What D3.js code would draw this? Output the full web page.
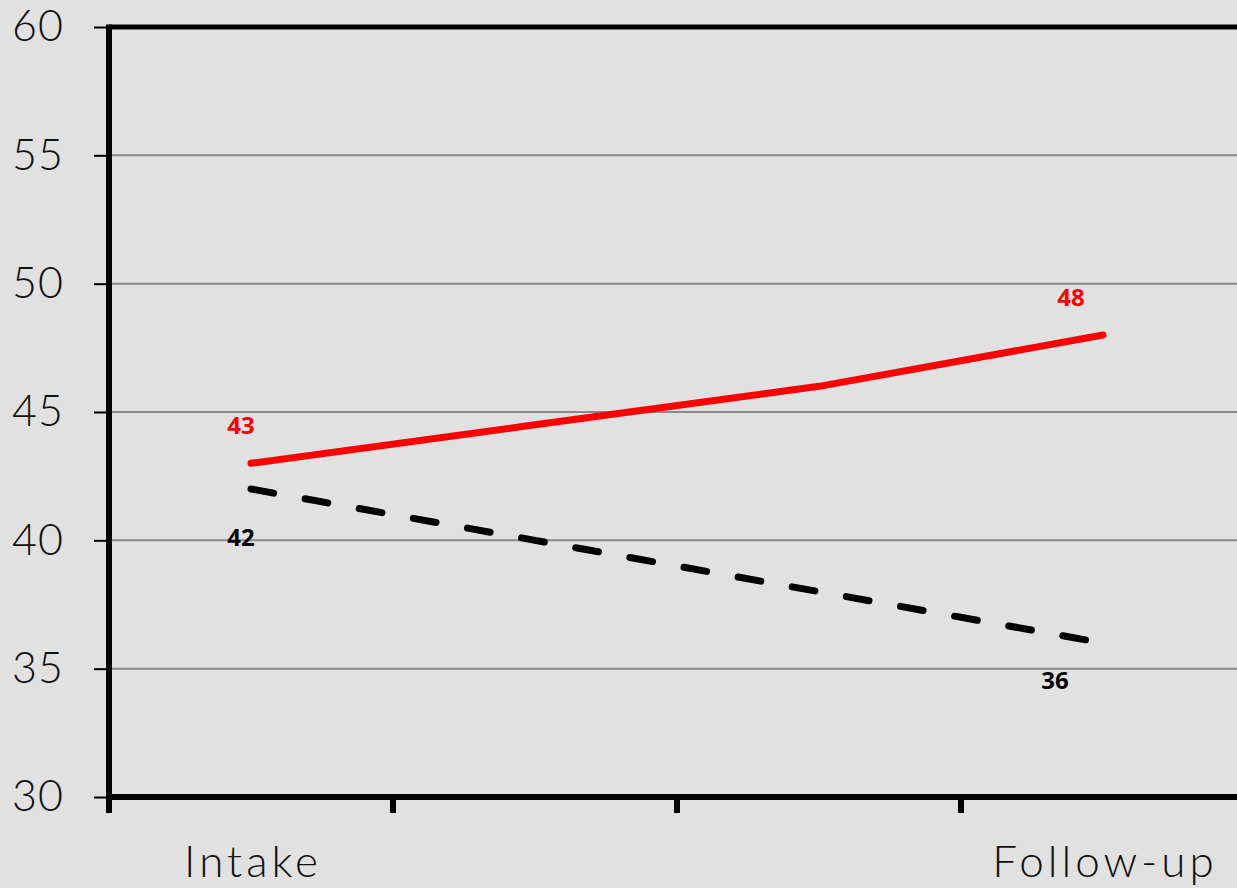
<!DOCTYPE html>
<html>
<head>
<meta charset="utf-8">
<script src="https://cdn.jsdelivr.net/npm/d3@7"></script>
<style>
  html, body { margin: 0; padding: 0; background: #e1e1e1; }
  svg { display: block; }
</style>
</head>
<body>
<svg id="chart" width="1237" height="888"></svg>
<script>
// Time points along the x axis (only first and last are labelled)
const categories = ["Intake", "T2", "T3", "Follow-up"];
const categoryLabels = ["Intake", "", "", "Follow-up"];

// Mean scores for the two groups
const redSeries = [43, 44.5, 46, 48];
const blackSeries = [42, 40, 38, 36];

// Which points carry a value label
const labelledIndex = [0, 3];

// Y axis ticks
const yTicks = [30, 35, 40, 45, 50, 55, 60];

const svg = d3.select("#chart");
const W = 1237, H = 888;
const plotLeft = 109, plotTop = 27, plotBottom = 797;
const step = 284;

svg.append("rect").attr("width", W).attr("height", H).attr("fill", "#e1e1e1");

const x = d3.scaleBand()
  .domain(categories)
  .range([plotLeft, plotLeft + step * categories.length])
  .paddingInner(0).paddingOuter(0);

const y = d3.scaleLinear().domain([30, 60]).range([plotBottom, plotTop]);

// Horizontal gridlines
svg.append("g")
  .selectAll("line")
  .data(yTicks.filter(t => t > 30 && t < 60))
  .join("line")
  .attr("x1", plotLeft).attr("x2", W)
  .attr("y1", d => y(d)).attr("y2", d => y(d))
  .attr("stroke", "#8a8a8a").attr("stroke-width", 2);

// Top border of the plot area
svg.append("line")
  .attr("x1", plotLeft).attr("x2", W)
  .attr("y1", y(60)).attr("y2", y(60))
  .attr("stroke", "#000").attr("stroke-width", 5);

// Y axis: thin ticks, large labels
const yAxis = d3.axisLeft(y).tickValues(yTicks).tickSize(15).tickPadding(30).tickFormat(d3.format("d"));
const gy = svg.append("g").attr("transform", `translate(${plotLeft},0)`).call(yAxis);
gy.select(".domain").remove();
gy.selectAll(".tick line").attr("stroke", "#000").attr("stroke-width", 2);
gy.selectAll(".tick text")
  .attr("fill", "#111")
  .style("font-family", "Lato, 'DejaVu Sans', sans-serif")
  .style("font-weight", 300)
  .style("font-size", "43px")
  .style("letter-spacing", "1px");

// Y axis thick line
svg.append("line")
  .attr("x1", plotLeft).attr("x2", plotLeft)
  .attr("y1", plotTop - 2.5).attr("y2", plotBottom + 2.5)
  .attr("stroke", "#000").attr("stroke-width", 6);

// X axis: thick line with ticks at category boundaries
const boundaries = categories.map(c => x(c)).concat([x(categories[categories.length - 1]) + x.bandwidth()]);
svg.append("line")
  .attr("x1", plotLeft - 3).attr("x2", W)
  .attr("y1", plotBottom).attr("y2", plotBottom)
  .attr("stroke", "#000").attr("stroke-width", 6);
svg.append("g")
  .selectAll("line")
  .data(boundaries)
  .join("line")
  .attr("x1", d => d).attr("x2", d => d)
  .attr("y1", plotBottom).attr("y2", plotBottom + 16)
  .attr("stroke", "#000").attr("stroke-width", 6);

// Category labels
svg.append("g")
  .selectAll("text")
  .data(categories)
  .join("text")
  .attr("x", d => x(d) + x.bandwidth() / 2 + 2)
  .attr("y", 877)
  .attr("text-anchor", "middle")
  .attr("fill", "#111")
  .style("font-family", "Lato, 'DejaVu Sans', sans-serif")
  .style("font-weight", 300)
  .style("font-size", "44px")
  .style("letter-spacing", "4px")
  .text((d, i) => categoryLabels[i]);

const line = d3.line()
  .x((d, i) => x(categories[i]) + x.bandwidth() / 2)
  .y(d => y(d));

// Black dashed series
svg.append("path")
  .datum(blackSeries)
  .attr("d", line)
  .attr("fill", "none")
  .attr("stroke", "#000")
  .attr("stroke-width", 7)
  .attr("stroke-linecap", "round")
  .attr("stroke-dasharray", "23,32");

// Red solid series
svg.append("path")
  .datum(redSeries)
  .attr("d", line)
  .attr("fill", "none")
  .attr("stroke", "#ff0000")
  .attr("stroke-width", 7)
  .attr("stroke-linecap", "round")
  .attr("stroke-linejoin", "round");

// Value labels
const px = i => x(categories[i]) + x.bandwidth() / 2;
const labelStyle = sel => sel
  .attr("text-anchor", "middle")
  .style("font-family", "'Noto Sans', 'Open Sans', sans-serif")
  .style("font-weight", 700)
  .style("font-size", "24px");

const redShift = { 0: -10, 3: -32 };
const blackShift = { 0: -10, 3: -48 };

svg.append("g").selectAll("text")
  .data(labelledIndex)
  .join("text")
  .attr("x", i => px(i) + redShift[i])
  .attr("y", i => y(redSeries[i]) - 29)
  .attr("fill", "#ff0000")
  .call(labelStyle)
  .text(i => redSeries[i]);

svg.append("g").selectAll("text")
  .data(labelledIndex)
  .join("text")
  .attr("x", i => px(i) + blackShift[i])
  .attr("y", i => y(blackSeries[i]) + (i === 0 ? 57 : 46))
  .attr("fill", "#000")
  .call(labelStyle)
  .text(i => blackSeries[i]);
</script>
</body>
</html>
